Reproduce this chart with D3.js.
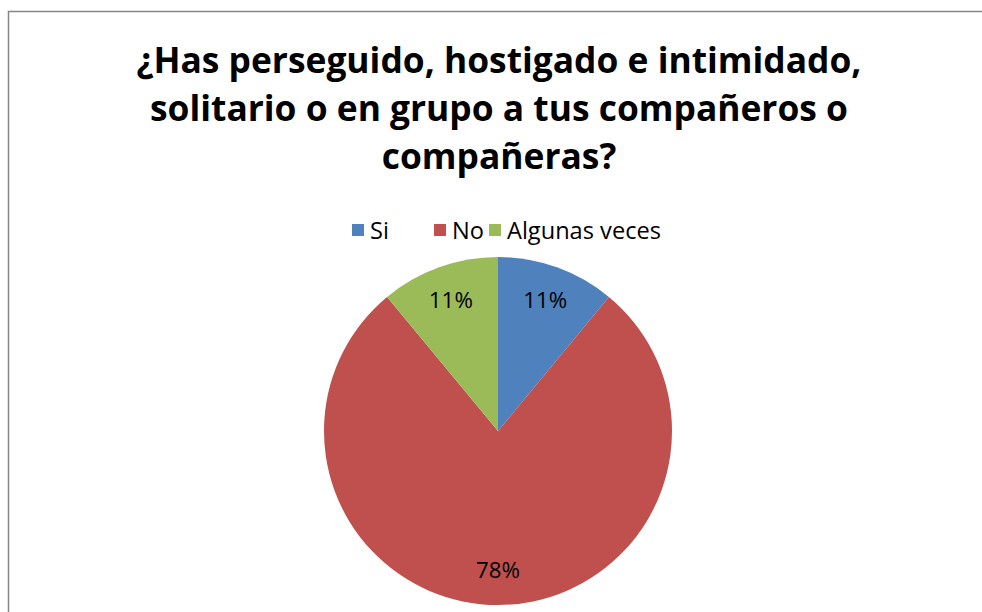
<!DOCTYPE html>
<html><head><meta charset="utf-8">
<script src="https://cdn.jsdelivr.net/npm/d3@7"></script>
<style>body{margin:0;background:#fff}svg{display:block}</style>
</head><body>
<svg id="c" width="982" height="612"></svg>
<script>
const categories = ["Si", "No", "Algunas veces"];
const values = [11, 78, 11];
const labels = ["11%", "78%", "11%"];
const colors = ["#4F81BD", "#C0504D", "#9BBB59"];
const titleLines = ["¿Has perseguido, hostigado e intimidado,", "solitario o en grupo a tus compañeros o", "compañeras?"];

const svg = d3.select("#c");
const font = "'Open Sans', 'Noto Sans', sans-serif";

function fitSize(text, weight, target) {
  const t = svg.append("text").attr("font-family", font).attr("font-weight", weight)
    .attr("font-size", 100).text(text);
  const w = t.node().getComputedTextLength();
  t.remove();
  return 100 * target / w;
}

svg.append("rect").attr("x", 8.5).attr("y", 11.5).attr("width", 990).attr("height", 620)
  .attr("fill", "#fff").attr("stroke", "#868686").attr("stroke-width", 1.5);

const titleSize = fitSize(titleLines[0], "bold", 725);
svg.append("g").selectAll("text").data(titleLines).join("text")
  .attr("x", 499).attr("y", (d, i) => 73 + i * 48)
  .attr("text-anchor", "middle").attr("font-family", font).attr("font-weight", "bold")
  .attr("font-size", titleSize).attr("fill", "#000").text(d => d);

// legend
const legSize = fitSize("Algunas veces", "normal", 154);
const legX = [352, 434, 489];
const lg = svg.append("g");
categories.forEach((c, i) => {
  lg.append("rect").attr("x", legX[i]).attr("y", 224).attr("width", 12).attr("height", 12).attr("fill", colors[i]);
  lg.append("text").attr("x", legX[i] + 18).attr("y", 239).attr("font-family", font)
    .attr("font-size", legSize).attr("fill", "#000").text(c);
});

const cx = 498, cy = 431, r = 174;
const pie = d3.pie().sort(null).value(d => d)(values);
const arc = d3.arc().innerRadius(0).outerRadius(r);
const g = svg.append("g").attr("transform", `translate(${cx},${cy})`);
g.selectAll("path").data(pie).join("path").attr("d", arc).attr("fill", (d, i) => colors[i]);
const labSize = fitSize("78%", "normal", 44);
const labArc = d3.arc().innerRadius(r * 0.8).outerRadius(r * 0.8);
g.selectAll("text").data(pie).join("text")
  .attr("transform", d => { const p = labArc.centroid(d); return `translate(${p[0]},${p[1]})`; })
  .attr("text-anchor", "middle").attr("dy", 8)
  .attr("font-family", font).attr("font-size", labSize).attr("fill", "#000")
  .text((d, i) => labels[i]);
</script>
</body></html>
